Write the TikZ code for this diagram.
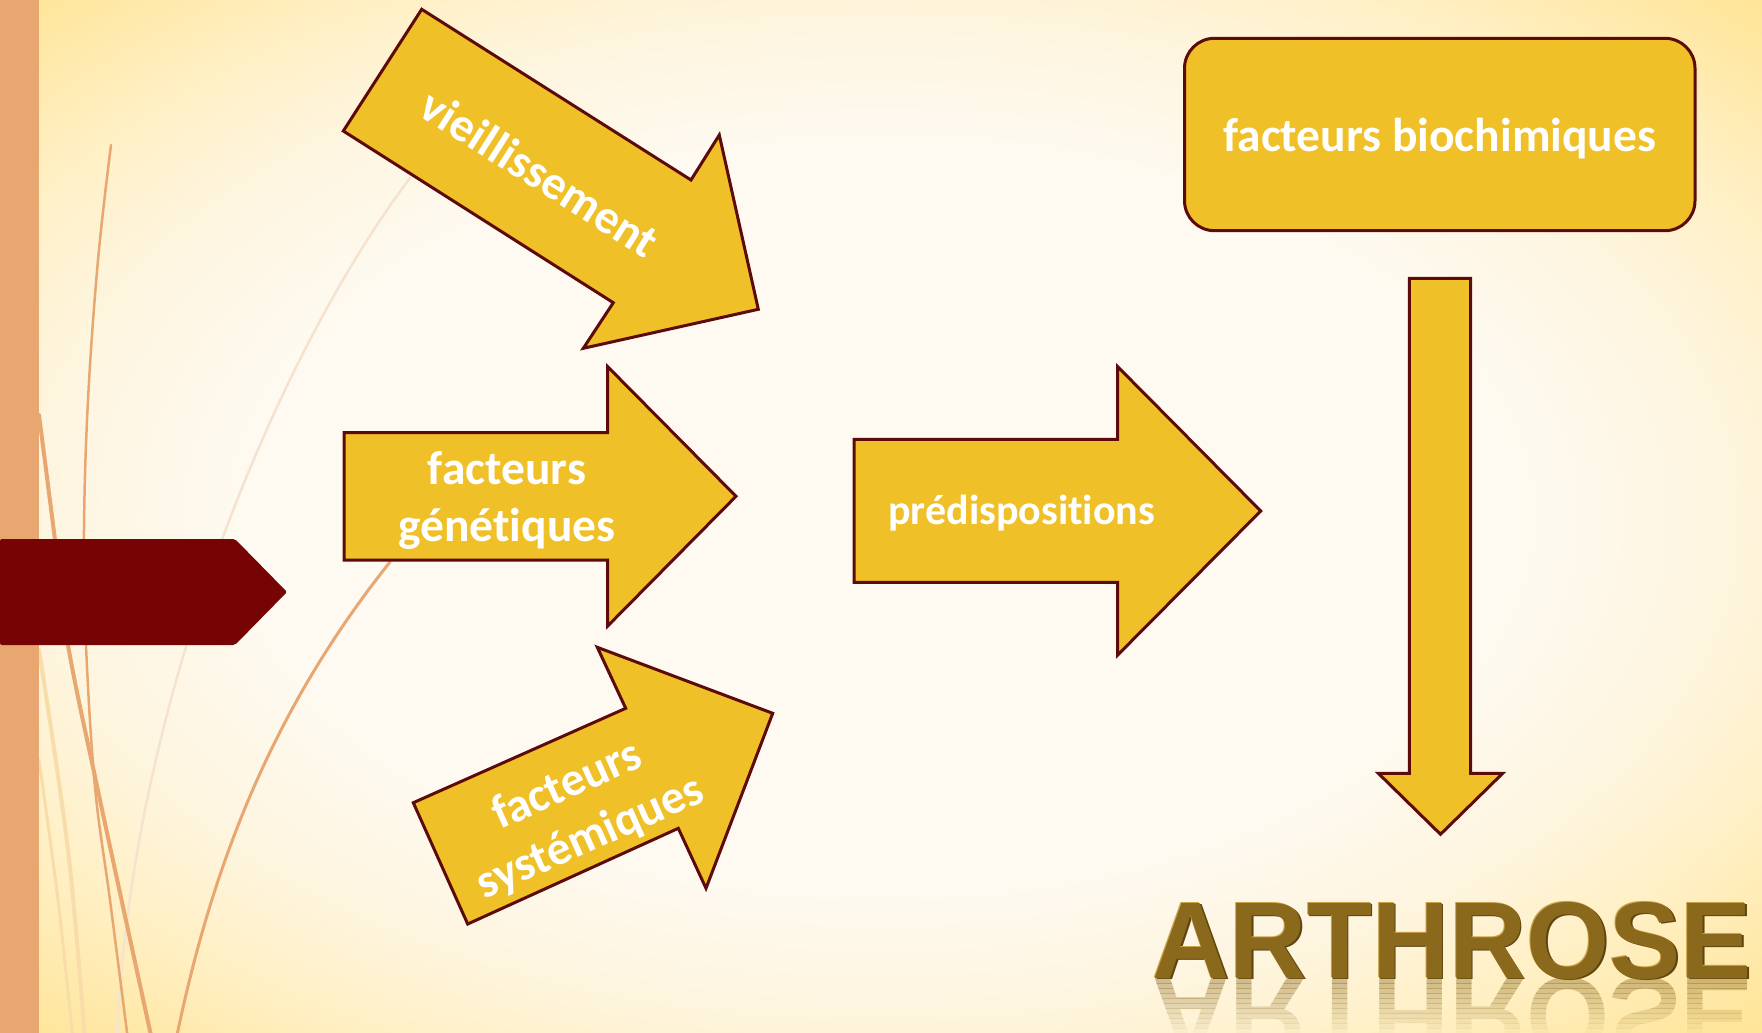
\documentclass[tikz,border=0pt]{standalone}
\usepackage{fontspec}
\setmainfont{Carlito}[Ligatures=NoCommon, RawFeature={-clig;-calt;-dlig}]
\newfontfamily\artfont{Liberation Sans}
\definecolor{cream}{HTML}{FEFAF1}
\definecolor{ylw0}{HTML}{FEF5DF}
\definecolor{ylwA}{HTML}{FFEFC2}
\definecolor{ylwB}{HTML}{FFE8A6}
\definecolor{ylwC}{HTML}{FFE491}
\definecolor{barc}{HTML}{E8A771}
\definecolor{lightl}{HTML}{F8DCAA}
\definecolor{faintl}{HTML}{F5E3CF}
\definecolor{darkred}{HTML}{760404}
\definecolor{argold}{HTML}{EFC027}
\definecolor{arline}{HTML}{5C0A0A}
\definecolor{artgold}{HTML}{8A691C}
\definecolor{artdark}{HTML}{5E4410}
\definecolor{artlight}{HTML}{CBA24A}
\pgfdeclareradialshading{bgshade}{\pgfpoint{0bp}{0bp}}{color(0bp)=(cream); color(18bp)=(cream); color(24bp)=(ylw0); color(29bp)=(ylwA); color(33bp)=(ylwB); color(36bp)=(ylwC); color(50bp)=(ylwC)}
\tikzset{
  arrowshape/.style={fill=argold, draw=arline, line width=3pt, line join=miter},
  lbl/.style={text=white, inner sep=0pt, font={\bfseries\fontsize{47.5}{57}\selectfont}},
  arttext/.style={inner sep=0pt, anchor=base, transform shape, font={\artfont\bfseries\fontsize{109}{109}\selectfont}},
  deco/.style={line cap=round}
}
\begin{document}
\begin{tikzpicture}[x=1pt,y=-1pt]
\useasboundingbox (0,0) rectangle (1762,1033);
\clip (0,0) rectangle (1762,1033);
\shade[shading=bgshade] (0,0) rectangle (1762,1033);

% decorative curves
\draw[deco, faintl, line width=2.5pt] (410,178) .. controls (280,350) and (130,700) .. (117,1040);
\draw[deco, lightl, line width=4pt] plot[smooth, tension=0.6] coordinates {(39,650) (68,850) (85,1040)};
\draw[deco, lightl, line width=3pt] plot[smooth, tension=0.6] coordinates {(39,760) (58,900) (73,1040)};
\draw[deco, barc, line width=2.5pt] plot[smooth, tension=0.6] coordinates {(111,145) (98,260) (88,400) (84,530) (86,645) (95,787) (110,900) (128,1040)};
\draw[deco, barc, line width=4pt] plot[smooth, tension=0.6] coordinates {(39,415) (55,540) (68,645) (100,800) (152,1040)};
\draw[deco, barc, line width=3pt] (176,1040) .. controls (215,850) and (280,700) .. (390,562);

% left bar and marker
\fill[barc] (0,0) rectangle (39,1033);
\fill[darkred, rounded corners=2pt] (0,539) -- (235,539) -- (287,592) -- (235,645) -- (0,645) -- cycle;

% arrows
\draw[arrowshape] (421.7,9.3) -- (691,180) -- (719.3,135) -- (758.3,309.3) -- (583.3,348.3) -- (613.3,302.7) -- (343.3,131) -- cycle;
\draw[arrowshape] (344,432.7) -- (607.7,432.7) -- (607.7,366.7) -- (736,496.3) -- (607.7,626) -- (607.7,560) -- (344,560) -- cycle;
\draw[arrowshape] (413.3,802.7) -- (625.7,708.3) -- (597.3,647.3) -- (772.7,713.3) -- (706,888.3) -- (678.3,828.3) -- (467.7,924) -- cycle;
\draw[arrowshape] (854,439.3) -- (1117.7,439.3) -- (1117.7,366.7) -- (1260.7,511) -- (1117.7,655) -- (1117.7,582.3) -- (854,582.3) -- cycle;
\draw[arrowshape] (1409.3,278.3) -- (1470.7,278.3) -- (1470.7,773.3) -- (1502.7,773.3) -- (1440.5,834.3) -- (1378.3,773.3) -- (1409.3,773.3) -- cycle;

% labels
\node[lbl, rotate=-32.4] (vieil) at (540,173) {vieillissement};
\node[lbl, align=center] (gen) at (507,501) {facteurs\\génét\kern0pt iques};
\node[lbl, align=center, rotate=24] (sys) at (579,812) {facteurs\\systémiques};
\node[lbl, font={\bfseries\fontsize{42}{50}\selectfont}] (pred) at (1021.7,513.5) {prédisposit\kern0pt ions};
\node[lbl, fill=argold, draw=arline, line width=3pt, rounded corners=30pt, minimum width=510.5pt, minimum height=192.4pt, text height=40pt, text depth=5.6pt] (bio) at (1439.75,134.5) {facteurs biochimiques};

% ARTHROSE
\begin{scope}[shift={(1452.5,978)}, xscale=0.98]
  \node[arttext, text=artdark] (artS) at (1.5,1.5) {ARTHROSE};
  \node[arttext, text=artlight] (artL) at (-1,-1) {ARTHROSE};
  \node[arttext, text=artgold] (art) at (0,0) {ARTHROSE};
\end{scope}
\foreach \i in {0,...,10} {
  \pgfmathsetmacro\op{0.40*(1-\i/11)}
  \begin{scope}
    \clip (1100,978+5*\i) rectangle (1762,983+5*\i);
    \begin{scope}[shift={(1452.5,978)}, xscale=0.98, yscale=-1]
      \node[arttext, text=artgold, opacity=\op, text opacity=\op] (refl\i) at (0,0) {ARTHROSE};
    \end{scope}
  \end{scope}
}
\end{tikzpicture}
\end{document}
